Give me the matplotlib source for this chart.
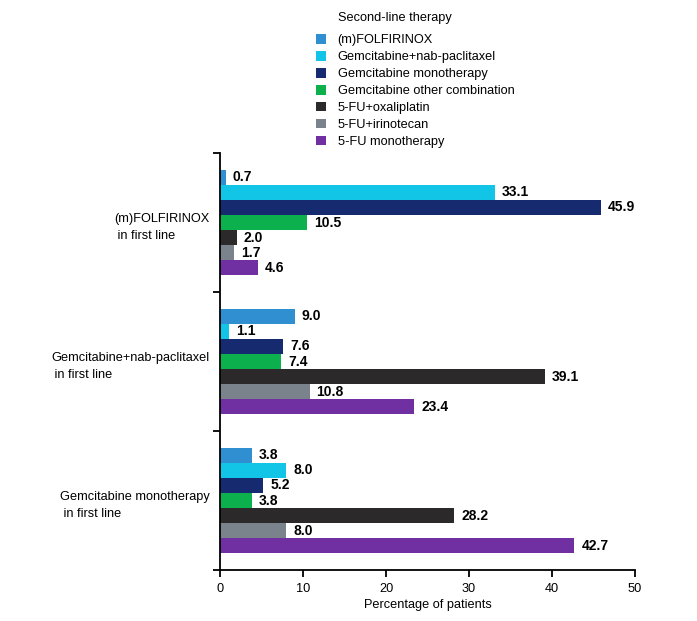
import matplotlib.pyplot as plt
import numpy as np

plt.rcParams['font.family'] = ['Liberation Sans', 'DejaVu Sans']

# first-line groups (top to bottom)
groups = ["(m)FOLFIRINOX\n in first line",
          "Gemcitabine+nab-paclitaxel\n in first line",
          "Gemcitabine monotherapy\n in first line"]

# second-line therapies
therapies = ["(m)FOLFIRINOX", "Gemcitabine+nab-paclitaxel", "Gemcitabine monotherapy",
             "Gemcitabine other combination", "5-FU+oxaliplatin", "5-FU+irinotecan",
             "5-FU monotherapy"]
colors = ["#2f8fd0", "#12c5e6", "#162a6f", "#0cb04c", "#2b292a", "#7a828b", "#7130a2"]

# percentage of patients, one list per second-line therapy (groups in order)
folfirinox_2l = [0.7, 9.0, 3.8]
gem_nab_2l = [33.1, 1.1, 8.0]
gem_mono_2l = [45.9, 7.6, 5.2]
gem_other_2l = [10.5, 7.4, 3.8]
fu_oxali_2l = [2.0, 39.1, 28.2]
fu_irino_2l = [1.7, 10.8, 8.0]
fu_mono_2l = [4.6, 23.4, 42.7]
values = [folfirinox_2l, gem_nab_2l, gem_mono_2l, gem_other_2l, fu_oxali_2l, fu_irino_2l, fu_mono_2l]

FS = 9.2

fig = plt.figure(figsize=(6.97, 6.21), dpi=100)
ax = fig.add_axes([220 / 697, 1 - 570 / 621, 415 / 697, 417 / 621])

y = np.arange(len(groups))
h = 0.108
handles = []
for i, (name, vals, c) in enumerate(zip(therapies, values, colors)):
    bars = ax.barh(y + (i - 3) * h, vals, height=h, color=c, label=name)
    ax.bar_label(bars, labels=[f"{v:.1f}" for v in vals], padding=5,
                 fontsize=10, fontweight='bold')
    handles.append(bars)

ax.set_ylim(2.5, -0.5)
ax.set_xlim(0, 50)
ax.set_yticks([-0.5, 0.5, 1.5, 2.5])
ax.set_yticklabels([])
ax.set_xticks([0, 10, 20, 30, 40, 50])
ax.tick_params(axis='both', direction='out', length=5, width=1.3, labelsize=FS)
ax.tick_params(axis='x', pad=4)
for s in ['top', 'right']:
    ax.spines[s].set_visible(False)
for s in ['left', 'bottom']:
    ax.spines[s].set_linewidth(1.3)
ax.set_xlabel("Percentage of patients", fontsize=FS, labelpad=3)

for yi, g in zip(y, groups):
    ax.text(-0.025, yi + 0.035, g, transform=ax.get_yaxis_transform(),
            ha='right', va='center', multialignment='left', fontsize=FS,
            linespacing=1.55)

fig.text(338 / 697, 1 - 18 / 621, "Second-line therapy", fontsize=FS, va='center', ha='left')
fig.legend(handles=handles, labels=therapies, loc='upper left',
           bbox_to_anchor=(316 / 697, 1 - 34 / 621), frameon=False, fontsize=FS,
           handlelength=0.8, handleheight=0.8, handletextpad=0.9,
           labelspacing=0.36, borderpad=0, borderaxespad=0)

fig.savefig("out.png", dpi=100)
